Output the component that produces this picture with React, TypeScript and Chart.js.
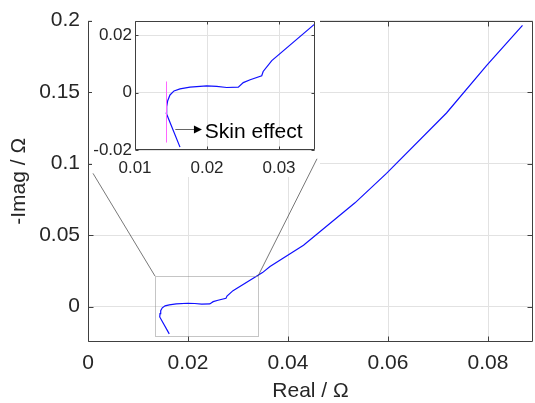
import React, { useEffect, useRef } from 'react';
import { Chart, registerables } from 'chart.js';

Chart.register(...registerables);

// ---- data (Real / -Imag in ohm) ----
const realValues = [
  0.01625, 0.01435, 0.0144, 0.01454, 0.01486, 0.01542, 0.01625, 0.01764, 0.01996,
  0.02135, 0.02274, 0.02435, 0.02504, 0.026, 0.0276, 0.0278, 0.029, 0.0349,
  0.0364, 0.0431, 0.0534, 0.0597, 0.0717, 0.0797, 0.0869,
];
const imagValues = [
  -0.019, -0.0072, -0.0049, -0.0028, -0.0008, 0.0006, 0.0013, 0.0019, 0.0024,
  0.0022, 0.0018, 0.0019, 0.0035, 0.0045, 0.0059, 0.0074, 0.0112, 0.0238,
  0.0281, 0.0429, 0.0726, 0.0932, 0.1354, 0.1685, 0.1966,
];

const mainXTicks = [0, 0.02, 0.04, 0.06, 0.08];
const mainXTickLabels = ['0', '0.02', '0.04', '0.06', '0.08'];
const mainYTicks = [0, 0.05, 0.1, 0.15, 0.2];
const mainYTickLabels = ['0', '0.05', '0.1', '0.15', '0.2'];
const mainXRange = [0, 0.089];
const mainYRange = [-0.0247, 0.2];

const insetXTicks = [0.01, 0.02, 0.03];
const insetXTickLabels = ['0.01', '0.02', '0.03'];
const insetYTicks = [-0.02, 0, 0.02];
const insetYTickLabels = ['-0.02', '0', '0.02'];
const insetXRange = [0.01, 0.035];
const insetYRange = [-0.02, 0.025];

const zoomBoxReal = [0.0134, 0.034];
const zoomBoxImag = [-0.0205, 0.0214];
const connectorReal = [0.001, 0.0458];
const connectorImag = [0.0932, 0.1034];

const skinLineReal = 0.01431;
const skinLineImag = [-0.0174, 0.0039];
const skinArrowReal = [0.0156, 0.0193];
const skinArrowImag = -0.0125;
const skinLabel = 'Skin effect';
const skinLabelReal = 0.0197;
const skinLabelImag = -0.0158;

const xTitle = 'Real / Ω';
const yTitle = '-Imag / Ω';

const FONT = "'Liberation Sans', Arial, sans-serif";
const TEXT = '#262626';
const AXIS = '#404040';
const GRID = '#e2e2e2';

const points = realValues.map((x, i) => ({ x, y: imagValues[i] }));

function drawFrame(chart: any, tl: number) {
  const { ctx, chartArea: ca, scales } = chart;
  ctx.save();
  ctx.strokeStyle = AXIS;
  ctx.lineWidth = 1;
  ctx.beginPath();
  const L = Math.round(ca.left) + 0.5;
  const R = Math.round(ca.right) - 0.5;
  const T = Math.round(ca.top) + 0.5;
  const B = Math.round(ca.bottom) - 0.5;
  ctx.rect(L, T, R - L, B - T);
  scales.x.ticks.forEach((t: any) => {
    const p = Math.round(scales.x.getPixelForValue(t.value)) + 0.5;
    ctx.moveTo(p, B); ctx.lineTo(p, B - tl);
    ctx.moveTo(p, T); ctx.lineTo(p, T + tl);
  });
  scales.y.ticks.forEach((t: any) => {
    const p = Math.round(scales.y.getPixelForValue(t.value)) + 0.5;
    ctx.moveTo(L, p); ctx.lineTo(L + tl, p);
    ctx.moveTo(R, p); ctx.lineTo(R - tl, p);
  });
  ctx.stroke();
  ctx.restore();
}

function scaleOpts(
  range: number[], ticks: number[], labels: string[], fontSize: number, pad: number,
  fit: number, horizontal: boolean, title?: any
) {
  return {
    type: 'linear',
    min: range[0],
    max: range[1],
    border: { display: false },
    grid: { color: GRID, lineWidth: 1, drawTicks: false },
    afterBuildTicks: (s: any) => { s.ticks = ticks.map((v) => ({ value: v })); },
    afterFit: (s: any) => { if (horizontal) s.height = fit; else s.width = fit; },
    ticks: {
      autoSkip: false,
      maxRotation: 0,
      padding: pad,
      color: TEXT,
      font: { family: FONT, size: fontSize },
      callback: (v: number) => {
        const i = ticks.findIndex((t) => Math.abs(t - v) < 1e-9);
        return i >= 0 ? labels[i] : '';
      },
    },
    title: title || { display: false },
  };
}

export default function App() {
  const mainRef = useRef<HTMLCanvasElement>(null);
  const insetRef = useRef<HTMLCanvasElement>(null);

  useEffect(() => {
    document.body.style.margin = '0';
    const mainChart: any = new Chart(mainRef.current as HTMLCanvasElement, {
      type: 'scatter',
      data: {
        datasets: [{
          data: points, showLine: true, borderColor: '#1010ff', borderWidth: 1.2,
          pointRadius: 0, fill: false, tension: 0,
        }],
      },
      options: {
        responsive: false,
        animation: false,
        devicePixelRatio: 1,
        layout: { padding: { left: 0, top: 15, right: 2, bottom: 0 } },
        plugins: { legend: { display: false }, tooltip: { enabled: false } },
        scales: {
          x: scaleOpts(mainXRange, mainXTicks, mainXTickLabels, 21, 9, 61, true, {
            display: true, text: xTitle, color: TEXT,
            font: { family: FONT, size: 21, lineHeight: 1 }, padding: { top: 0, bottom: 1 },
          }),
          y: scaleOpts(mainYRange, mainYTicks, mainYTickLabels, 21, 8, 88, false, {
            display: true, text: yTitle, color: TEXT,
            font: { family: FONT, size: 21, lineHeight: 1 }, padding: { top: 9, bottom: 0 },
          }),
        } as any,
      },
      plugins: [{
        id: 'mainDeco',
        afterDraw(chart: any) {
          drawFrame(chart, 5);
          const { ctx, scales } = chart;
          const x0 = scales.x.getPixelForValue(zoomBoxReal[0]);
          const x1 = scales.x.getPixelForValue(zoomBoxReal[1]);
          const y0 = scales.y.getPixelForValue(zoomBoxImag[0]);
          const y1 = scales.y.getPixelForValue(zoomBoxImag[1]);
          ctx.save();
          ctx.strokeStyle = '#8a8a8a';
          ctx.lineWidth = 1;
          ctx.setLineDash([1, 1]);
          ctx.strokeRect(Math.round(x0) + 0.5, Math.round(y1) + 0.5, Math.round(x1 - x0), Math.round(y0 - y1));
          ctx.restore();
        },
      }],
    } as any);

    const insetChart: any = new Chart(insetRef.current as HTMLCanvasElement, {
      type: 'scatter',
      data: {
        datasets: [{
          data: points, showLine: true, borderColor: '#1010ff', borderWidth: 1.2,
          pointRadius: 0, fill: false, tension: 0,
        }],
      },
      options: {
        responsive: false,
        animation: false,
        devicePixelRatio: 1,
        layout: { padding: { left: 92, top: 21, right: 220, bottom: 225 } },
        plugins: { legend: { display: false }, tooltip: { enabled: false } },
        scales: {
          x: scaleOpts(insetXRange, insetXTicks, insetXTickLabels, 17, 8, 28, true),
          y: scaleOpts(insetYRange, insetYTicks, insetYTickLabels, 17, 3, 43, false),
        } as any,
      },
      plugins: [{
        id: 'insetDeco',
        beforeDraw(chart: any) {
          const { ctx, chartArea: ca } = chart;
          ctx.save();
          ctx.fillStyle = '#ffffff';
          ctx.fillRect(ca.left - 43, ca.top - 4, ca.right - ca.left + 48, ca.bottom - ca.top + 31);
          ctx.restore();
        },
        afterDraw(chart: any) {
          const { ctx, scales } = chart;
          drawFrame(chart, 3);
          const sx = scales.x, sy = scales.y;
          ctx.save();
          // magenta marker line
          ctx.strokeStyle = '#ff66ff';
          ctx.lineWidth = 1;
          const mx = Math.round(sx.getPixelForValue(skinLineReal)) + 0.5;
          ctx.beginPath();
          ctx.moveTo(mx, sy.getPixelForValue(skinLineImag[0]));
          ctx.lineTo(mx, sy.getPixelForValue(skinLineImag[1]));
          ctx.stroke();
          // arrow
          const ax0 = sx.getPixelForValue(skinArrowReal[0]);
          const ax1 = sx.getPixelForValue(skinArrowReal[1]);
          const ay = Math.round(sy.getPixelForValue(skinArrowImag)) + 0.5;
          ctx.strokeStyle = '#666666';
          ctx.beginPath();
          ctx.moveTo(ax0, ay);
          ctx.lineTo(ax1 - 6, ay);
          ctx.stroke();
          ctx.fillStyle = '#000000';
          ctx.beginPath();
          ctx.moveTo(ax1, ay);
          ctx.lineTo(ax1 - 8, ay - 4);
          ctx.lineTo(ax1 - 8, ay + 4);
          ctx.closePath();
          ctx.fill();
          // label
          ctx.fillStyle = '#000000';
          ctx.font = `21px ${FONT}`;
          ctx.textAlign = 'left';
          ctx.textBaseline = 'alphabetic';
          ctx.fillText(skinLabel, sx.getPixelForValue(skinLabelReal), sy.getPixelForValue(skinLabelImag));
          // connectors from zoom box to inset
          const mxs = mainChart.scales.x, mys = mainChart.scales.y;
          ctx.strokeStyle = '#555555';
          ctx.lineWidth = 0.8;
          ctx.beginPath();
          ctx.moveTo(mxs.getPixelForValue(zoomBoxReal[0]), mys.getPixelForValue(zoomBoxImag[1]));
          ctx.lineTo(mxs.getPixelForValue(connectorReal[0]), mys.getPixelForValue(connectorImag[0]));
          ctx.moveTo(mxs.getPixelForValue(zoomBoxReal[1]), mys.getPixelForValue(zoomBoxImag[1]));
          ctx.lineTo(mxs.getPixelForValue(connectorReal[1]), mys.getPixelForValue(connectorImag[1]));
          ctx.stroke();
          ctx.restore();
        },
      }],
    } as any);

    return () => {
      insetChart.destroy();
      mainChart.destroy();
    };
  }, []);

  return (
    <div style={{ position: 'relative', width: 535, height: 403, background: '#ffffff' }}>
      <canvas ref={mainRef} width={535} height={403} style={{ position: 'absolute', left: 0, top: 0 }} />
      <canvas ref={insetRef} width={535} height={403} style={{ position: 'absolute', left: 0, top: 0 }} />
    </div>
  );
}
